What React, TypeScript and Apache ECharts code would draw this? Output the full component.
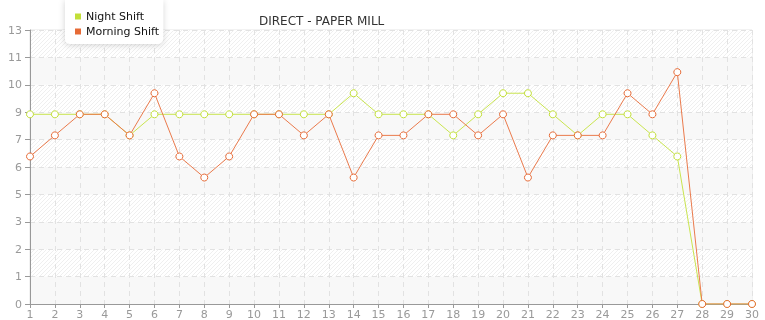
import React, { useEffect, useRef } from "react";
import * as echarts from "echarts";

const days: string[] = Array.from({ length: 30 }, (_, i) => String(i + 1));
const nightShift: number[] = [9, 9, 9, 9, 8, 9, 9, 9, 9, 9, 9, 9, 9, 10, 9, 9, 9, 8, 9, 10, 10, 9, 8, 9, 9, 8, 7, 0, 0, 0];
const morningShift: number[] = [7, 8, 9, 9, 8, 10, 7, 6, 7, 9, 9, 8, 9, 6, 8, 8, 9, 9, 8, 9, 6, 8, 8, 8, 10, 9, 11, 0, 0, 0];
const seriesNames: string[] = ["Night Shift", "Morning Shift"];
const seriesColors: string[] = ["#c2df38", "#e66a36"];
const lineColors: string[] = ["#c9e44f", "#ea7a4c"];
const titleText = "DIRECT - PAPER MILL";

function makeHatch(): HTMLCanvasElement {
  const s = 4;
  const c = document.createElement("canvas");
  c.width = s;
  c.height = s;
  const ctx = c.getContext("2d")!;
  ctx.fillStyle = "#ffffff";
  ctx.fillRect(0, 0, s, s);
  ctx.strokeStyle = "#efefef";
  ctx.lineWidth = 1;
  ctx.beginPath();
  ctx.moveTo(-1, s + 1);
  ctx.lineTo(s + 1, -1);
  ctx.moveTo(-1, 1);
  ctx.lineTo(1, -1);
  ctx.moveTo(s - 1, s + 1);
  ctx.lineTo(s + 1, s - 1);
  ctx.stroke();
  return c;
}

export default function App() {
  const ref = useRef<HTMLDivElement>(null);
  useEffect(() => {
    if (!ref.current) return;
    const chart = echarts.init(ref.current, null, { renderer: "svg" });
    const hatch = { image: makeHatch(), repeat: "repeat", imageWidth: 4, imageHeight: 4 } as any;
    const font = "DejaVu Sans, Verdana, sans-serif";
    chart.setOption({
      animation: false,
      textStyle: { fontFamily: font },
      title: {
        text: titleText,
        left: 254,
        top: 10,
        textStyle: { fontSize: 12, fontWeight: "normal", color: "#333", fontFamily: font },
      },
      legend: {
        orient: "vertical",
        left: 65,
        top: 0,
        data: seriesNames.map((n, i) => ({
          name: n,
          itemStyle: { color: seriesColors[i], borderWidth: 0 },
        })),
        icon: "rect",
        itemWidth: 6,
        itemHeight: 6,
        itemGap: 4,
        padding: [11, 4, 7, 10],
        backgroundColor: "#fff",
        borderRadius: [0, 0, 5, 5],
        shadowBlur: 6,
        shadowColor: "rgba(0,0,0,0.18)",
        shadowOffsetY: 1,
        textStyle: { fontSize: 11, color: "#111", fontFamily: font },
      },
      grid: {
        left: 30,
        right: 13,
        top: 30,
        bottom: 15,
        show: true,
        borderColor: "#e4e4e4",
        borderWidth: 1,
        backgroundColor: "transparent",
      },
      xAxis: {
        type: "category",
        data: days,
        boundaryGap: false,
        axisLine: { lineStyle: { color: "#999" } },
        axisTick: { show: true, length: 4, lineStyle: { color: "#999" }, alignWithLabel: true },
        axisLabel: { color: "#999", fontSize: 11, margin: 5, interval: 0, fontFamily: font },
        splitLine: { show: true, lineStyle: { color: "#e2e2e2", type: [5, 4] } },
      },
      yAxis: {
        type: "value",
        min: 0,
        max: 13,
        interval: 1.3,
        axisLine: { show: true, lineStyle: { color: "#999" } },
        axisTick: { show: true, length: 5, lineStyle: { color: "#999" } },
        axisLabel: {
          color: "#999",
          fontSize: 11,
          margin: 8,
          fontFamily: font,
          formatter: (v: number) => String(Math.floor(v + 1e-6)),
        },
        splitLine: { show: true, lineStyle: { color: "#e2e2e2", type: [5, 4] } },
        splitArea: { show: true, areaStyle: { color: ["#f8f8f8", hatch] } },
      },
      series: [
        {
          name: seriesNames[0],
          type: "line",
          data: nightShift,
          symbol: "circle",
          symbolSize: 7,
          lineStyle: { width: 1, color: lineColors[0] },
          itemStyle: { color: "#fff", borderColor: seriesColors[0], borderWidth: 1 },
        },
        {
          name: seriesNames[1],
          type: "line",
          data: morningShift,
          symbol: "circle",
          symbolSize: 7,
          lineStyle: { width: 1, color: lineColors[1] },
          itemStyle: { color: "#fff", borderColor: seriesColors[1], borderWidth: 1 },
        },
      ],
    });
    return () => chart.dispose();
  }, []);
  return <div ref={ref} style={{ position: "fixed", left: 0, top: 0, width: 765, height: 320 }} />;
}
